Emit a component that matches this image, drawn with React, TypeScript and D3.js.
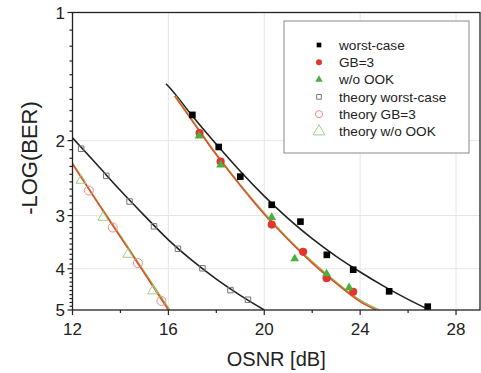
import { scaleLinear, scaleLog, line, curveMonotoneX, symbol, symbolSquare, symbolCircle, symbolTriangle, range } from "d3";

// measured points
const wcX = [17.0, 18.1, 19.0, 20.31, 21.51, 22.61, 23.71, 25.21, 26.82];
const wcY = [1.74, 2.07, 2.43, 2.83, 3.1, 3.71, 4.02, 4.52, 4.91];
const gbX = [17.3, 18.18, 20.31, 21.62, 22.6, 23.71];
const gbY = [1.92, 2.24, 3.15, 3.65, 4.21, 4.53];
const ookX = [17.28, 18.18, 20.31, 21.27, 22.6, 23.54];
const ookY = [1.95, 2.28, 3.03, 3.79, 4.11, 4.43];

// theory points
const thWcX = [12.36, 13.41, 14.38, 15.4, 16.4, 17.42, 18.59, 19.32];
const thWcY = [2.09, 2.42, 2.78, 3.18, 3.59, 3.99, 4.49, 4.73];
const thGbX = [12.68, 13.68, 14.73, 15.71];
const thGbY = [2.62, 3.2, 3.88, 4.76];
const thOokX = [12.36, 13.27, 14.31, 15.35];
const thOokY = [2.48, 3.03, 3.7, 4.51];

// fitted curves
const fitWcX = [15.9, 16, 17, 18, 19, 20, 21, 22, 23, 24, 25, 26, 26.9];
const fitWcY = [1.47, 1.49, 1.75, 2.04, 2.36, 2.7, 3.05, 3.4, 3.74, 4.07, 4.4, 4.72, 5.0];
const fitGbX = [16.26, 17, 18, 19, 20, 21, 22, 23, 24, 24.66];
const fitGbY = [1.57, 1.8, 2.16, 2.55, 2.98, 3.42, 3.88, 4.33, 4.78, 5.0];
const fitOokX = [16.3, 17, 18, 19, 20, 21, 22, 23, 24, 24.8];
const fitOokY = [1.57, 1.79, 2.15, 2.54, 2.96, 3.4, 3.85, 4.3, 4.74, 5.0];
const fitThWcX = [12, 13, 14, 15, 16, 17, 18, 19, 20];
const fitThWcY = [1.97, 2.27, 2.62, 3.0, 3.42, 3.83, 4.23, 4.62, 5.0];
const fitThGbX = [12, 13, 14, 15, 16];
const fitThGbY = [2.27, 2.77, 3.37, 4.1, 5.0];
const fitThOokX = [12, 13, 14, 15, 16.05];
const fitThOokY = [2.26, 2.76, 3.35, 4.07, 5.0];

const xTicks = [12, 16, 20, 24, 28];
const xMinor = [14, 18, 22, 26];
const yTicks = [1, 2, 3, 4, 5];

const legendLabels = ["worst-case", "GB=3", "w/o OOK", "theory worst-case", "theory GB=3", "theory w/o OOK"];

const RED = "#e3352b";
const GREEN = "#4cae3f";
const FONT = "Liberation Sans, Arial, sans-serif";

export default function App() {
  const left = 72.5, right = 480, top = 12.5, bottom = 310;
  const x = scaleLinear([12, 29], [left, right]);
  const y = scaleLog([1, 5], [top, bottom]);

  const path = (xs: number[], ys: number[]) =>
    line<number>((_, i) => x(xs[i]), (_, i) => y(ys[i])).curve(curveMonotoneX)(xs);

  const sq = symbol(symbolSquare, 44)()!;
  const circ = symbol(symbolCircle, 52)()!;
  const tri = symbol(symbolTriangle, 34)()!;
  const osq = symbol(symbolSquare, 30)()!;
  const ocirc = symbol(symbolCircle, 64)()!;
  const otri = symbol(symbolTriangle, 44)()!;

  const yMinor = range(1.1, 5, 0.1).filter((v) => Math.abs(v - Math.round(v)) > 0.01);

  const legendMarks = [
    { d: symbol(symbolSquare, 22)()!, fill: "#000", stroke: "none" },
    { d: symbol(symbolCircle, 28)()!, fill: RED, stroke: "none" },
    { d: symbol(symbolTriangle, 24)()!, fill: GREEN, stroke: "none" },
    { d: symbol(symbolSquare, 22)()!, fill: "none", stroke: "#777" },
    { d: symbol(symbolCircle, 40)()!, fill: "none", stroke: "#f08a8a" },
    { d: symbol(symbolTriangle, 60)()!, fill: "none", stroke: "#9fd08a" },
  ];

  return (
    <svg width={481} height={373} style={{ position: "absolute", left: 0, top: 0, background: "#fff" }} fontFamily={FONT}>
      <defs>
        <clipPath id="plot">
          <rect x={left} y={top} width={right - left} height={bottom - top} />
        </clipPath>
      </defs>
      {/* grid */}
      <g stroke="#e6e6e6" strokeWidth={1}>
        {xTicks.slice(1).map((t) => (
          <line key={t} x1={x(t)} x2={x(t)} y1={top} y2={bottom} />
        ))}
        {yTicks.slice(1, -1).map((t) => (
          <line key={t} x1={left} x2={right} y1={y(t)} y2={y(t)} />
        ))}
      </g>

      {/* legend */}
      <rect x={284} y={21} width={185} height={132} fill="#fff" stroke="#8a8a8a" strokeWidth={1} />
      {legendLabels.map((lab, i) => {
        const ly = 45 + i * 17.3;
        const m = legendMarks[i];
        return (
          <g key={lab}>
            <path d={m.d} transform={`translate(319,${ly})`} fill={m.fill} stroke={m.stroke} strokeWidth={1} />
            <text x={339} y={ly} dy="0.35em" fontSize={13.6} fill="#222">{lab}</text>
          </g>
        );
      })}

      {/* curves */}
      <g clipPath="url(#plot)" fill="none" strokeWidth={1.6}>
        <path d={path(fitThWcX, fitThWcY)!} stroke="#222" />
        <path d={path(fitThOokX, fitThOokY)!} stroke="#8cc152" />
        <path d={path(fitThGbX, fitThGbY)!} stroke="#e0502a" />
        <path d={path(fitWcX, fitWcY)!} stroke="#222" />
        <path d={path(fitOokX, fitOokY)!} stroke="#8cc152" />
        <path d={path(fitGbX, fitGbY)!} stroke="#e0502a" />
      </g>

      {/* theory markers */}
      <g fill="none" strokeWidth={1}>
        {thWcX.map((v, i) => (
          <path key={"tw" + i} d={osq} transform={`translate(${x(v)},${y(thWcY[i])})`} stroke="#777" />
        ))}
        {thOokX.map((v, i) => (
          <path key={"to" + i} d={otri} transform={`translate(${x(v)},${y(thOokY[i])})`} stroke="#9fd08a" />
        ))}
        {thGbX.map((v, i) => (
          <path key={"tg" + i} d={ocirc} transform={`translate(${x(v)},${y(thGbY[i])})`} stroke="#f08a8a" />
        ))}
      </g>

      {/* measured markers */}
      {wcX.map((v, i) => (
        <path key={"w" + i} d={sq} transform={`translate(${x(v)},${y(wcY[i])})`} fill="#000" />
      ))}
      {gbX.map((v, i) => (
        <path key={"g" + i} d={circ} transform={`translate(${x(v)},${y(gbY[i])})`} fill={RED} />
      ))}
      {ookX.map((v, i) => (
        <path key={"o" + i} d={tri} transform={`translate(${x(v)},${y(ookY[i])})`} fill={GREEN} />
      ))}

      {/* frame */}
      <rect x={left} y={top} width={right - left} height={bottom - top} fill="none" stroke="#222" strokeWidth={1.3} />

      {/* axes ticks */}
      <g stroke="#222" strokeWidth={1.2}>
        {xTicks.map((t) => (
          <line key={t} x1={x(t)} x2={x(t)} y1={bottom} y2={bottom + 5} />
        ))}
        {xMinor.map((t) => (
          <line key={t} x1={x(t)} x2={x(t)} y1={bottom} y2={bottom + 3} />
        ))}
        {yTicks.map((t) => (
          <line key={t} x1={left - 5} x2={left} y1={y(t)} y2={y(t)} />
        ))}
        {yMinor.map((t) => (
          <line key={t} x1={left - 3} x2={left} y1={y(t)} y2={y(t)} />
        ))}
      </g>
      {xTicks.map((t) => (
        <text key={t} x={x(t)} y={335} textAnchor="middle" fontSize={17} fill="#222">{t}</text>
      ))}
      {yTicks.map((t) => (
        <text key={t} x={65} y={y(t)} dy="0.36em" textAnchor="end" fontSize={17} fill="#222">{t}</text>
      ))}
      <text x={(left + right) / 2} y={366} textAnchor="middle" fontSize={20} fill="#222">OSNR [dB]</text>
      <text transform="translate(37,158) rotate(-90)" textAnchor="middle" fontSize={22} fill="#222">-LOG(BER)</text>
    </svg>
  );
}
